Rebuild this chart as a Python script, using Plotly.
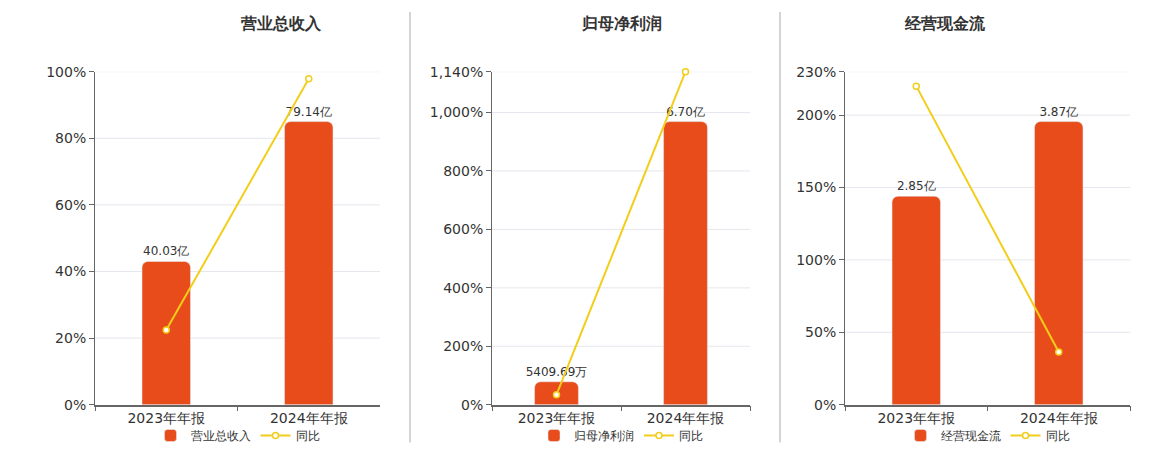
import plotly.graph_objects as go

cats = ["2023年年报", "2024年年报"]
titles = ["营业总收入", "归母净利润", "经营现金流"]
bar_names = ["营业总收入", "归母净利润", "经营现金流"]
bar_vals = [[40.03, 79.14], [5409.69, 67000.0], [2.85, 3.87]]
bar_labels = [["40.03亿", "79.14亿"], ["5409.69万", "6.70亿"], ["2.85亿", "3.87亿"]]
yoy = [[22.4, 97.9], [34.0, 1140.0], [220.0, 36.4]]
y_max = [100, 1140, 230]
tickvals = [[0, 20, 40, 60, 80, 100], [0, 200, 400, 600, 800, 1000, 1140], [0, 50, 100, 150, 200, 230]]

W, H = 1160, 450
def fx(px):
    return (px - 8) / W
def fy(px):
    return 1 - (px - 14) / 436.6

xdoms = [(95, 380), (492, 750), (845, 1130)]
ydom = [fy(405), fy(70)]
BAR = "#e84c1a"
LINE = "#f2cd1a"
FONT = "DejaVu Sans"

fig = go.Figure()
layout = dict(width=W, height=H, margin=dict(l=0, r=0, t=0, b=0),
              paper_bgcolor="white", plot_bgcolor="white", showlegend=True,
              font=dict(family=FONT, size=13, color="#333"))
shapes, annotations = [], []
for i in range(3):
    n = "" if i == 0 else str(i + 1)
    xa = f"x{n}"
    ya = "y" if i == 0 else f"y{2*i+1}"
    ya2 = f"y{2*i+2}"
    leg = "legend" if i == 0 else f"legend{i+1}"
    fig.add_trace(go.Bar(x=cats, y=bar_vals[i], name=bar_names[i], marker_color=BAR,
                         width=0.34, text=bar_labels[i], textposition="outside",
                         constraintext="none",
                         textfont=dict(size=12, color="#333"), cliponaxis=False,
                         xaxis=xa, yaxis=ya2, legend=leg))
    fig.add_trace(go.Scatter(x=cats, y=yoy[i], name="同比", mode="lines+markers",
                             line=dict(color=LINE, width=2),
                             marker=dict(symbol="circle", size=6, color="white",
                                         line=dict(color=LINE, width=1.5)),
                             cliponaxis=False, xaxis=xa, yaxis=ya, legend=leg))
    xd = [fx(xdoms[i][0]), fx(xdoms[i][1])]
    xkey = "xaxis" if i == 0 else f"xaxis{i+1}"
    ykey = "yaxis" if i == 0 else f"yaxis{2*i+1}"
    y2key = f"yaxis{2*i+2}"
    layout[xkey] = dict(domain=xd, anchor=ya2, showline=True, linecolor="#666", linewidth=1.5,
                        ticks="outside", tickson="boundaries", ticklen=5, tickcolor="#666",
                        tickfont=dict(size=14, color="#333"))
    layout[y2key] = dict(domain=ydom, anchor=xa, range=[0, max(bar_vals[i]) / 0.85],
                         showgrid=False, showticklabels=False, showline=False, zeroline=False,
                         ticks="")
    layout[ykey] = dict(domain=ydom, anchor=xa, overlaying=ya2, range=[0, y_max[i]],
                        tickvals=tickvals[i], ticktext=[f"{v:,}%" for v in tickvals[i]],
                        showline=True, linecolor="#666", ticks="outside", ticklen=5,
                        tickcolor="#666", showgrid=False, zeroline=False,
                        tickfont=dict(size=14, color="#333"))
    # gridlines drawn as shapes beneath the bars
    for v in tickvals[i][1:]:
        shapes.append(dict(type="line", xref=f"{xa} domain", yref=ya, x0=0, x1=1, y0=v, y1=v,
                           layer="below", line=dict(color="#e6e6ee", width=1)))
    cx = fx((xdoms[i][0] + xdoms[i][1]) / 2)
    layout[leg] = dict(orientation="h", x=cx, xanchor="center", y=fy(436), yanchor="middle",
                       font=dict(size=12), bgcolor="rgba(0,0,0,0)", itemwidth=30)
    annotations.append(dict(text=f"<b>{titles[i]}</b>", x=cx, y=fy(22), xref="paper", yref="paper",
                            yanchor="middle", showarrow=False, font=dict(size=16, color="#333")))
for xv in (410, 780):
    shapes.append(dict(type="line", xref="paper", yref="paper", x0=fx(xv), x1=fx(xv),
                       y0=fy(443), y1=fy(10), line=dict(color="#aaa", width=1)))
layout["shapes"] = shapes
layout["annotations"] = annotations
layout["barcornerradius"] = 6
fig.update_layout(**layout)
fig.write_html("out.html")
